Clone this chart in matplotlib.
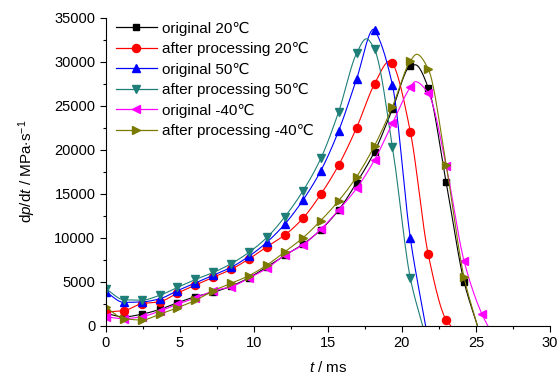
import numpy as np
import matplotlib
matplotlib.use("Agg")
import matplotlib.pyplot as plt
from matplotlib.ticker import MultipleLocator

plt.rcParams['font.family'] = ['Liberation Sans', 'DejaVu Sans']
plt.rcParams['mathtext.fontset'] = 'custom'
plt.rcParams['mathtext.rm'] = 'Liberation Sans'
plt.rcParams['mathtext.it'] = 'Liberation Sans:italic'

# marker sampling step (ms)
step = 1.21

labels = ["original 20\u2103", "after processing 20\u2103", "original 50\u2103",
          "after processing 50\u2103", "original -40\u2103", "after processing -40\u2103"]

orig_20 = [1400, 1000, 1300, 1850, 2610, 3300, 3800, 4500, 5450, 6700, 8000,
           9250, 10900, 13150, 16250, 19770, 24590, 29510, 27050, 16290, 5000]
proc_20 = [1550, 1700, 2500, 2720, 3700, 4620, 5500, 6410, 7600, 8980, 10310,
           12200, 14930, 18260, 22500, 27470, 29820, 22050, 8110, 650]
orig_50 = [3850, 2650, 2700, 3050, 3980, 4850, 5730, 6640, 7900, 9500, 11560,
           14250, 17600, 22150, 28030, 33600, 27350, 9930]
proc_50 = [4200, 2950, 2900, 3450, 4350, 5250, 6050, 7050, 8350, 10040, 12390,
           15300, 19000, 24320, 30950, 31400, 20340, 5390]
orig_m40 = [1000, 800, 1020, 1650, 2450, 3150, 3950, 4430, 5400, 6520, 8030,
            9170, 10950, 13150, 15610, 18830, 23000, 27090, 26410, 18180, 7350, 1300]
proc_m40 = [2100, 800, 650, 1300, 2050, 2880, 3980, 4820, 5700, 6900, 8410,
            9980, 11950, 14200, 16930, 20450, 24890, 30080, 29170, 18260, 5500]

# curve peaks (t, value) and end time where curve reaches zero
peaks = [(20.9, 29650), (19.2, 30100), (18.1, 33700), (17.6, 32600), (20.9, 27730), (21.0, 30840)]
ends = [25.1, 23.3, 21.6, 21.4, 25.8, 25.1]

series = [orig_20, proc_20, orig_50, proc_50, orig_m40, proc_m40]
colors = ['#000000', '#ff0000', '#0000ff', '#1f7f78', '#ff00ff', '#7a7a00']
markers = ['s', 'o', '^', 'v', '<', '>']
msizes = [4.8, 5.8, 6.2, 6.2, 6.2, 6.2]


def pchip(x, y, xn):
    x = np.asarray(x, float); y = np.asarray(y, float)
    h = np.diff(x); d = np.diff(y) / h
    n = len(x)
    m = np.zeros(n)
    for k in range(1, n - 1):
        if d[k - 1] * d[k] <= 0:
            m[k] = 0.0
        else:
            w1 = 2 * h[k] + h[k - 1]
            w2 = h[k] + 2 * h[k - 1]
            m[k] = (w1 + w2) / (w1 / d[k - 1] + w2 / d[k])
    m[0] = d[0]
    m[-1] = d[-1]
    idx = np.clip(np.searchsorted(x, xn) - 1, 0, n - 2)
    t = (xn - x[idx]) / h[idx]
    h00 = 2 * t**3 - 3 * t**2 + 1
    h10 = t**3 - 2 * t**2 + t
    h01 = -2 * t**3 + 3 * t**2
    h11 = t**3 - t**2
    return h00 * y[idx] + h10 * h[idx] * m[idx] + h01 * y[idx + 1] + h11 * h[idx] * m[idx + 1]


fig = plt.figure(figsize=(5.6, 3.78), dpi=100)
ax = fig.add_axes([0.189, 0.1384, 0.793, 0.8148])

for vals, pk, end, c, mk, ms, lab in zip(series, peaks, ends, colors, markers, msizes, labels):
    tm = np.arange(len(vals)) * step
    kx = list(tm) + [pk[0], end]
    ky = list(vals) + [pk[1], 0]
    order = np.argsort(kx)
    kx = np.array(kx)[order]; ky = np.array(ky)[order]
    xs = np.linspace(0, end, 400)
    ys = pchip(kx, ky, xs)
    ax.plot(xs, ys, color=c, lw=0.8)
    ax.plot(tm, vals, linestyle='none', marker=mk, color=c, markersize=ms)
    ax.plot([], [], color=c, lw=0.9, marker=mk, markersize=ms, label=lab)

ax.set_xlim(0, 30)
ax.set_ylim(0, 35000)
ax.xaxis.set_major_locator(MultipleLocator(5))
ax.xaxis.set_minor_locator(MultipleLocator(2.5))
ax.yaxis.set_major_locator(MultipleLocator(5000))
ax.yaxis.set_minor_locator(MultipleLocator(2500))
ax.tick_params(which='major', direction='out', length=4, width=0.8, labelsize=10.5)
ax.tick_params(which='minor', direction='out', length=2.5, width=0.8)
ax.spines['top'].set_visible(False)
ax.spines['right'].set_visible(False)

ax.set_xlabel(r'$\it{t}$ / ms', fontsize=11, labelpad=7)
ax.set_ylabel(r'd$\it{p}$/d$\it{t}$ / MPa$\cdot$s$^{-1}$', fontsize=11, labelpad=12)

leg = ax.legend(loc='upper left', bbox_to_anchor=(0.0, 1.02), frameon=False,
                fontsize=11, handlelength=2.7, handletextpad=0.35, labelspacing=0.42,
                borderaxespad=0.25)

fig.savefig('out.png', dpi=100)
